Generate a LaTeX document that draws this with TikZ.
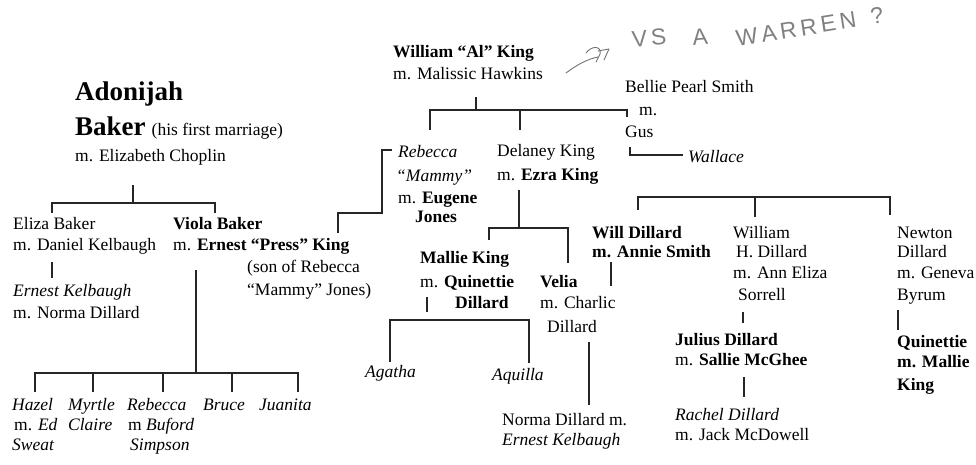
\documentclass[tikz,border=0pt]{standalone}
\usepackage{fontspec}
\setmainfont{Liberation Serif}
\newfontfamily\handfont{Liberation Sans}
\newcommand{\famfs}{\fontsize{17.5}{21}\selectfont}
\newcommand{\famfsbig}{\fontsize{27}{30}\selectfont}
\newcommand{\famhand}{\fontsize{23}{24}\handfont}
\tikzset{
  txt/.style={anchor=base west, inner sep=0pt, font=\famfs},
  bigtxt/.style={anchor=base west, inner sep=0pt, font=\famfsbig\bfseries},
  link/.style={line width=1.2pt, draw=black!85, line join=miter},
  hand/.style={inner sep=0pt, font=\famhand, text=black!50},
  handline/.style={line width=0.9pt, draw=black!55, line cap=round, line join=round},
}
\begin{document}
\begin{tikzpicture}[x=1pt,y=-1pt]
\useasboundingbox (0,0) rectangle (976,465);

% ---------- Adonijah Baker ----------
\node[bigtxt] (adA) at (75,101) {Adonijah};
\node[bigtxt] (adB) at (75,136) {Baker\hspace{6pt}{\famfs\mdseries (his first marriage)}};
\node[txt] (adC) at (75,162) {m. Elizabeth Choplin};
\coordinate (adTop) at (133,185);
\coordinate (adMid) at (133,203);
\coordinate (adL) at (52,213);
\coordinate (adR) at (215,213);
\draw[link] (adTop) -- (adMid);
\draw[link] (adL) |- (adMid) -| (adR);

% Eliza
\node[txt] (elA) at (13,229) {Eliza Baker};
\node[txt] (elB) at (13,250) {m. Daniel Kelbaugh};
\coordinate (elV1) at (52,262);
\coordinate (elV2) at (52,278);
\draw[link] (elV1) -- (elV2);
\node[txt] (ekA) at (13,296) {\textit{Ernest Kelbaugh}};
\node[txt] (ekB) at (13,318) {m. Norma Dillard};

% Viola
\node[txt] (viA) at (173,229) {\textbf{Viola Baker}};
\node[txt] (viB) at (173,250) {m. \textbf{Ernest “Press” King}};
\node[txt] (viC) at (247,272) {(son of Rebecca};
\node[txt] (viD) at (247,295) {“Mammy” Jones)};
\coordinate (viV1) at (196,270);
\coordinate (viV2) at (196,373);
\draw[link] (viV1) -- (viV2);
\coordinate (chL) at (35,392);
\coordinate (chR) at (298,392);
\coordinate (chB) at (93,392);
\coordinate (chC) at (163,392);
\coordinate (chD) at (232,392);
\draw[link] (chL) |- (viV2) -| (chR);
\draw[link] (chB) -- (93,373);
\draw[link] (chC) -- (163,373);
\draw[link] (chD) -- (232,373);

\node[txt] (haA) at (12,410) {\textit{Hazel}};
\node[txt] (haB) at (14,430) {m. \textit{Ed}};
\node[txt] (haC) at (12,450) {\textit{Sweat}};
\node[txt] (myA) at (68,410) {\textit{Myrtle}};
\node[txt] (myB) at (68,430) {\textit{Claire}};
\node[txt] (reA) at (127,410) {\textit{Rebecca}};
\node[txt] (reB) at (128,430) {m \textit{Buford}};
\node[txt] (reC) at (130,450) {\textit{Simpson}};
\node[txt] (bru) at (203,410) {\textit{Bruce}};
\node[txt] (jua) at (259,410) {\textit{Juanita}};

% Ernest to Rebecca
\coordinate (erS) at (338,233);
\coordinate (erE) at (392,150);
\draw[link] (erS) -- (338,213) -- (382,213) -- (382,150) -- (erE);

% ---------- William "Al" King ----------
\node[txt] (wkA) at (393,58) {\textbf{William “Al” King}};
\node[txt] (wkB) at (393,80) {m. Malissic Hawkins};
\coordinate (wkTop) at (476,97);
\coordinate (wkMid) at (476,110);
\coordinate (wkL) at (430,130);
\coordinate (wkC) at (520,130);
\coordinate (wkR) at (627,117);
\draw[link] (wkTop) -- (wkMid);
\draw[link] (wkL) |- (wkMid) -| (wkR);
\draw[link] (wkC) -- (520,110);

% Bellie / Gus / Wallace
\node[txt] (beA) at (625,93) {Bellie Pearl Smith};
\node[txt] (beB) at (639,116) {m.};
\node[txt] (beC) at (625,138) {Gus};
\node[txt] (wal) at (688,163) {\textit{Wallace}};
\coordinate (gusS) at (630,147);
\coordinate (walE) at (683,155);
\draw[link] (gusS) |- (walE);

% Rebecca "Mammy"
\node[txt] (rmA) at (398,158) {\textit{Rebecca}};
\node[txt] (rmB) at (396,182) {\textit{“Mammy”}};
\node[txt] (rmC) at (398,203) {m. \textbf{Eugene}};
\node[txt] (rmD) at (415,222) {\textbf{Jones}};

% Delaney
\node[txt] (deA) at (497,157) {Delaney King};
\node[txt] (deB) at (497,180) {m. \textbf{Ezra King}};
\coordinate (deTop) at (519,190);
\coordinate (deMid) at (519,228);
\coordinate (deL) at (489,240);
\coordinate (deR) at (568,263);
\draw[link] (deTop) -- (deMid);
\draw[link] (deL) |- (deMid) -| (deR);

% Mallie
\node[txt] (maA) at (420,263) {\textbf{Mallie King}};
\node[txt] (maB) at (420,287) {m. \textbf{Quinettie}};
\node[txt] (maC) at (455,308) {\textbf{Dillard}};
\coordinate (maV1) at (427,297);
\coordinate (maV2) at (427,312);
\draw[link] (maV1) -- (maV2);
\coordinate (maL) at (390,362);
\coordinate (maR) at (529,363);
\draw[link] (maL) -- (390,320) -- (529,320) -- (maR);
\node[txt] (aga) at (365,377) {\textit{Agatha}};
\node[txt] (aqu) at (492,380) {\textit{Aquilla}};

% Velia
\node[txt] (veA) at (540,287) {\textbf{Velia}};
\node[txt] (veB) at (540,308) {m. Charlic};
\node[txt] (veC) at (547,332) {Dillard};
\coordinate (veV1) at (589,342);
\coordinate (veV2) at (589,405);
\draw[link] (veV1) -- (veV2);
\node[txt] (ndA) at (502,425) {Norma Dillard m.};
\node[txt] (ndB) at (502,445) {\textit{Ernest Kelbaugh}};

% ---------- Dillard siblings ----------
\coordinate (diL) at (638,210);
\coordinate (diC) at (755,217);
\coordinate (diR) at (890,215);
\draw[link] (diL) -- (638,197) -- (890,197) -- (diR);
\draw[link] (diC) -- (755,197);

\node[txt] (wdA) at (592,238) {\textbf{Will Dillard}};
\node[txt] (wdB) at (592,257) {\textbf{m. Annie Smith}};
\coordinate (wdV1) at (611,262);
\coordinate (wdV2) at (611,286);
\draw[link] (wdV1) -- (wdV2);

\node[txt] (whA) at (733,238) {William};
\node[txt] (whB) at (736,257) {H. Dillard};
\node[txt] (whC) at (733,278) {m. Ann Eliza};
\node[txt] (whD) at (738,300) {Sorrell};
\coordinate (whV1) at (743,312);
\coordinate (whV2) at (743,323);
\draw[link] (whV1) -- (whV2);
\node[txt] (juA) at (675,345) {\textbf{Julius Dillard}};
\node[txt] (juB) at (675,365) {m. \textbf{Sallie McGhee}};
\coordinate (juV1) at (744,377);
\coordinate (juV2) at (744,397);
\draw[link] (juV1) -- (juV2);
\node[txt] (raA) at (675,420) {\textit{Rachel Dillard}};
\node[txt] (raB) at (675,440) {m. Jack McDowell};

\node[txt] (neA) at (897,238) {Newton};
\node[txt] (neB) at (897,257) {Dillard};
\node[txt] (neC) at (897,278) {m. Geneva};
\node[txt] (neD) at (897,300) {Byrum};
\coordinate (neV1) at (898,310);
\coordinate (neV2) at (898,330);
\draw[link] (neV1) -- (neV2);
\node[txt] (quA) at (897,347) {\textbf{Quinettie}};
\node[txt] (quB) at (897,367) {\textbf{m. Mallie}};
\node[txt] (quC) at (897,390) {\textbf{King}};

% ---------- handwritten note ----------
\node[hand, rotate=5] (hVS) at (649,38) {V\,S};
\node[hand, rotate=5] (hA) at (700,37) {A};
\node[hand, rotate=9] (hW) at (796,29) {W\,A\,R\,R\,E\,N};
\node[hand, rotate=9] (hQ) at (877,16) {?};
\coordinate (arS) at (566,73);
\coordinate (arM) at (598,57);
\draw[handline] (arS) .. controls (578,64) and (588,59) .. (arM);
\draw[handline] (586,53) .. controls (592,45) and (602,46) .. (600,54) -- (596,62);
\draw[handline] (598,51) -- (609,49) -- (604,60);
\end{tikzpicture}
\end{document}
